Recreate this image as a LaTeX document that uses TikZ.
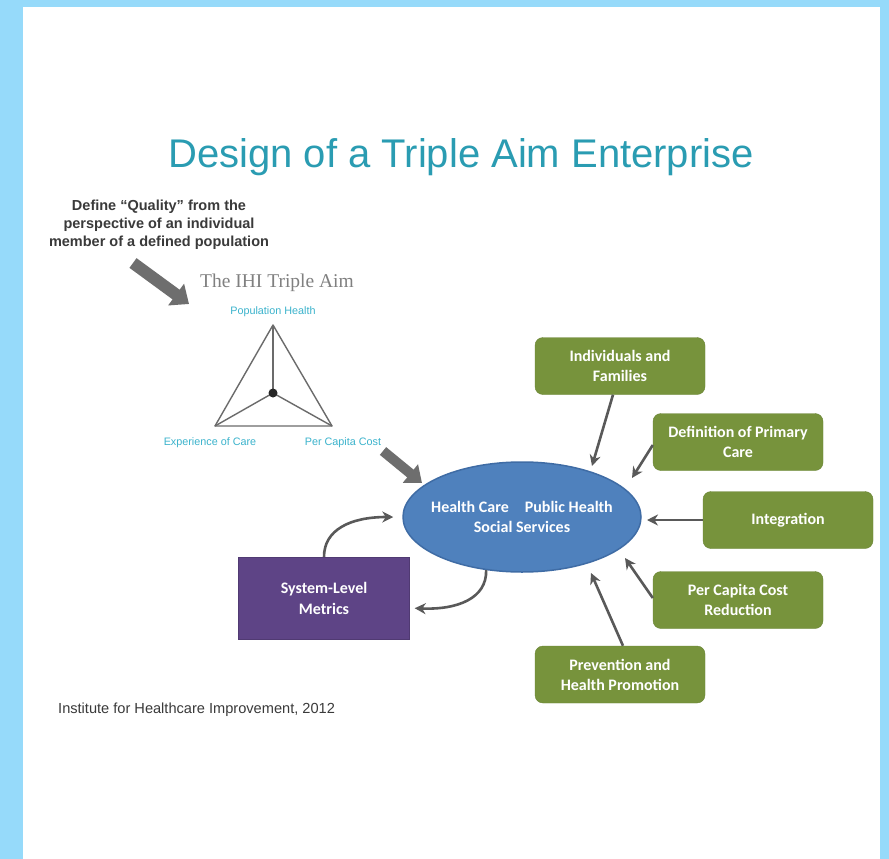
\documentclass[tikz,border=0pt]{standalone}
\usepackage{fontspec}
\setmainfont{Liberation Sans}
\newfontfamily\boxfont{Carlito}
\newfontfamily\serifface{Liberation Serif}
\usetikzlibrary{arrows.meta,shapes.geometric}

\definecolor{framecol}{HTML}{96DAFA}
\definecolor{titlecol}{HTML}{2A9CB2}
\definecolor{labelcol}{HTML}{3BB3CC}
\definecolor{boxgreen}{HTML}{77933C}
\definecolor{boxedge}{HTML}{6A8535}
\definecolor{hubblue}{HTML}{4F81BD}
\definecolor{hubedge}{HTML}{3F6CA5}
\definecolor{metricpurple}{HTML}{5E4486}
\definecolor{arrowgray}{HTML}{595959}
\definecolor{blockgray}{HTML}{6E6E6E}
\definecolor{trigray}{HTML}{6B6B6B}
\definecolor{notegray}{HTML}{3A3A3A}

\begin{document}
\begin{tikzpicture}[x=1pt,y=-1pt,
  greenbox/.style={draw=boxedge, fill=boxgreen, rounded corners=8pt,
    minimum width=170pt, minimum height=57pt, inner sep=2pt,
    text=white, align=center, font=\boxfont\bfseries\fontsize{16}{20}\selectfont},
  feed/.style={draw=arrowgray, line width=2.6pt, -{Stealth[length=11pt,width=11pt]}},
  blockarrow/.style={draw=blockgray, -{Triangle[length=16pt,width=26pt]}},
  tripoint/.style={font=\fontsize{10.8}{12}\selectfont, text=labelcol, inner sep=0pt},
  triline/.style={draw=trigray, line width=1.4pt}]

% page frame
\useasboundingbox (0,0) rectangle (889,859);
\fill[framecol] (0,0) rectangle (889,859);
\fill[white] (23,7) rectangle (880,859);

% heading
\node[text=titlecol, font=\fontsize{40}{46}\selectfont, inner sep=0pt] (title) at (461,157)
  {Design of a Triple Aim Enterprise};

% note on quality
\node[align=center, font=\bfseries\fontsize{14.5}{18}\selectfont, text=notegray, inner sep=0pt] (quality) at (159,225)
  {Define “Quality” from the\\perspective of an individual\\member of a defined population};

% IHI Triple Aim triangle
\node[text=gray, font=\serifface\fontsize{19.5}{22}\selectfont, inner sep=0pt] (ihi) at (277,283) {The IHI Triple Aim};
\coordinate (apex) at (273,325);
\coordinate (left) at (215,426);
\coordinate (right) at (332,426);
\coordinate (mid) at (273,393);
\draw[triline, line join=round] (apex) -- (left) -- (right) -- cycle;
\draw[triline] (mid) -- (apex);
\draw[triline] (mid) -- (left);
\draw[triline] (mid) -- (right);
\fill[black!85] (mid) circle (4.5pt);
\node[tripoint] (poplabel) at (273,312) {Population Health};
\node[tripoint] (explabel) at (210,443) {Experience of Care};
\node[tripoint] (costlabel) at (343,443) {Per Capita Cost};

% block arrows
\coordinate (qa1) at (133,263);
\coordinate (qa2) at (189,304);
\draw[blockarrow, line width=12pt] (qa1) -- (qa2);
\coordinate (ca1) at (383,451);
\coordinate (ca2) at (422,483);
\draw[blockarrow, line width=10pt, -{Triangle[length=15pt,width=23pt]}] (ca1) -- (ca2);

% central ellipse
\node[ellipse, draw=hubedge, line width=1.5pt, fill=hubblue,
  minimum width=238pt, minimum height=110pt, inner sep=0pt] (hub) at (522,517) {};
\node[text=white, align=center, font=\boxfont\bfseries\fontsize{16}{20}\selectfont, inner sep=0pt] (hublabel) at (hub.center)
  {Health Care\hspace{16pt}Public Health\\Social Services};

% green input boxes
\node[greenbox] (g1) at (620,366) {Individuals and\\Families};
\node[greenbox] (g2) at (738,442) {Definition of Primary\\Care};
\node[greenbox] (g3) at (788,520) {Integration};
\node[greenbox] (g4) at (738,600) {Per Capita Cost\\Reduction};
\node[greenbox] (g5) at (620,674.5) {Prevention and\\Health Promotion};

% metrics box
\node[draw=metricpurple!85!black, fill=metricpurple, minimum width=171pt, minimum height=82pt,
  text=white, align=center, font=\boxfont\bfseries\fontsize{16}{21}\selectfont] (metrics) at (324,598)
  {System-Level\\Metrics};

% arrows into the ellipse
\coordinate (in1) at (592,466);
\coordinate (in2) at (632,478);
\coordinate (in3) at (647,520);
\coordinate (in4) at (625,558);
\coordinate (in5) at (591,573);
\draw[feed] ([xshift=-7pt]g1.south) -- (in1);
\draw[feed] ([yshift=-3pt]g2.west) -- (in2);
\draw[feed] (g3.west) -- (in3);
\draw[feed] ([yshift=2pt]g4.west) -- (in4);
\draw[feed] ([xshift=3pt]g5.north) -- (in5);

% feedback loop with the metrics box
\draw[feed, shorten >=9pt] (metrics.north) .. controls (324,530) and (350,517) .. (hub.west);
\draw[feed, shorten >=5pt] (hub.236) .. controls (487,598) and (458,610) .. ([yshift=-10pt]metrics.east);

% source line
\node[anchor=west, text=notegray, font=\fontsize{14.6}{16}\selectfont, inner sep=0pt] (source) at (58,710)
  {Institute for Healthcare Improvement, 2012};
\end{tikzpicture}
\end{document}
